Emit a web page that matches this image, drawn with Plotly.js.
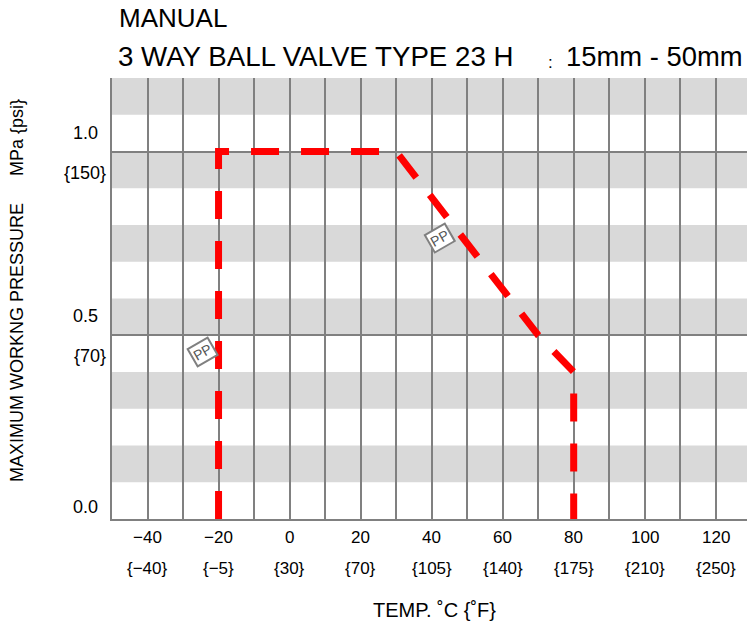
<!DOCTYPE html>
<html>
<head>
<meta charset="utf-8">
<script src="https://cdn.plot.ly/plotly-3.0.1.min.js"></script>
<style>html,body{margin:0;padding:0;background:#fff;}#chart{width:747px;height:628px;}</style>
</head>
<body>
<div id="chart"></div>
<script>
// ---- data ----
const tempC = [-20, -20, 30, 70, 80, 80];
const pressureMPa = [0, 1.0, 1.0, 0.5, 0.4, 0];
const xTickC = [-40, -20, 0, 20, 40, 60, 80, 100, 120];
const xTickCText = ["\u221240", "\u221220", "0", "20", "40", "60", "80", "100", "120"];
const xTickFText = ["{\u221240}", "{\u22125}", "{30}", "{70}", "{105}", "{140}", "{175}", "{210}", "{250}"];
const yTickVals = [0.0, 0.5, 1.0];
const yTickMPaText = ["0.0", "0.5", "1.0"];
const yTickPsiText = ["", "{70}", "{150}"];
const bandStarts = [0.1, 0.3, 0.5, 0.7, 0.9, 1.1];
const bandHeight = 0.1;
const materialLabels = ["PP", "PP"];
const materialLabelX = [-24.5, 42.3];
const materialLabelY = [0.455, 0.766];

// ---- layout helpers ----
const W = 747, H = 628;
const M = {l: 112, r: 0, t: 78, b: 109};
const pw = W - M.l - M.r, ph = H - M.t - M.b;
const px = x => (x - M.l) / pw;
const py = y => (H - M.b - y) / ph;
const FONT = "Liberation Sans, Arial, sans-serif";

const trace = {
  x: tempC, y: pressureMPa, type: 'scatter', mode: 'lines',
  line: {color: '#ff0000', width: 7, dash: '28px,22px'},
  hoverinfo: 'x+y', showlegend: false
};

const shapes = bandStarts.map(b => ({
  type: 'rect', xref: 'paper', yref: 'y', x0: 0, x1: 1, y0: b, y1: b + bandHeight,
  fillcolor: '#d9d9d9', line: {width: 0}, layer: 'below'
}));

const annotations = [];
// titles
annotations.push({text: 'MANUAL', xref: 'paper', yref: 'paper', x: px(117), y: py(18),
  xanchor: 'left', yanchor: 'middle', showarrow: false, font: {family: FONT, size: 26, color: '#000'}});
annotations.push({text: '3 WAY BALL VALVE TYPE 23 H', xref: 'paper', yref: 'paper', x: px(116), y: py(57),
  xanchor: 'left', yanchor: 'middle', showarrow: false, font: {family: FONT, size: 27.7, color: '#000'}});
annotations.push({text: ':', xref: 'paper', yref: 'paper', x: px(550), y: py(62),
  xanchor: 'center', yanchor: 'middle', showarrow: false, font: {family: FONT, size: 17, color: '#000'}});
annotations.push({text: '15mm - 50mm', xref: 'paper', yref: 'paper', x: px(564), y: py(57),
  xanchor: 'left', yanchor: 'middle', showarrow: false, font: {family: FONT, size: 27.4, color: '#000'}});
// axis titles
annotations.push({text: 'MAXIMUM WORKNG PRESSURE\u2003\u2002MPa {psi}', xref: 'paper', yref: 'paper',
  x: px(17), y: py(291), xanchor: 'center', yanchor: 'middle', textangle: -90, showarrow: false,
  font: {family: FONT, size: 18, color: '#000'}});
annotations.push({text: 'TEMP. \u02DAC {\u02DAF}', xref: 'paper', yref: 'paper', x: px(434), y: py(610),
  xanchor: 'center', yanchor: 'middle', showarrow: false, font: {family: FONT, size: 20, color: '#000'}});
// x tick labels
xTickC.forEach((c, i) => {
  annotations.push({text: xTickCText[i], xref: 'x', yref: 'paper', x: c, y: py(537.5),
    xanchor: 'center', yanchor: 'middle', showarrow: false, font: {family: FONT, size: 17, color: '#000'}});
  annotations.push({text: xTickFText[i], xref: 'x', yref: 'paper', x: c, y: py(568),
    xanchor: 'center', yanchor: 'middle', showarrow: false, font: {family: FONT, size: 17, color: '#000'}});
});
// y tick labels
yTickVals.forEach((v, i) => {
  annotations.push({text: yTickMPaText[i], xref: 'paper', yref: 'y', x: 0, y: v,
    xanchor: 'right', yanchor: 'bottom', xshift: -12, yshift: v === 0 ? 0 : 7, showarrow: false,
    font: {family: FONT, size: 18, color: '#000'}});
  if (yTickPsiText[i]) {
    annotations.push({text: yTickPsiText[i], xref: 'paper', yref: 'y', x: 0, y: v,
      xanchor: 'right', yanchor: 'top', xshift: -4, yshift: -9, showarrow: false,
      font: {family: FONT, size: 18, color: '#000'}});
  }
});
// material labels
materialLabels.forEach((t, i) => {
  annotations.push({text: t, xref: 'x', yref: 'y', x: materialLabelX[i], y: materialLabelY[i],
    xanchor: 'center', yanchor: 'middle', textangle: -30, showarrow: false,
    bgcolor: '#ffffff', bordercolor: '#808080', borderwidth: 2, borderpad: 1,
    font: {family: FONT, size: 14, color: '#555555'}});
});

const layout = {
  width: W, height: H, margin: M,
  paper_bgcolor: '#ffffff', plot_bgcolor: '#ffffff',
  showlegend: false,
  xaxis: {range: [-50, 128.8], tick0: 0, dtick: 10, showgrid: true, gridcolor: '#808080', gridwidth: 2,
    showline: true, linecolor: '#808080', linewidth: 2, zeroline: false, showticklabels: false, ticks: '',
    fixedrange: true},
  yaxis: {range: [0, 1.2], tickvals: yTickVals.slice(1), showgrid: true, gridcolor: '#808080', gridwidth: 2,
    showline: true, linecolor: '#808080', linewidth: 2, zeroline: false, showticklabels: false, ticks: '',
    fixedrange: true},
  shapes: shapes,
  annotations: annotations
};

Plotly.newPlot('chart', [trace], layout, {displayModeBar: false, staticPlot: true});
</script>
</body>
</html>
